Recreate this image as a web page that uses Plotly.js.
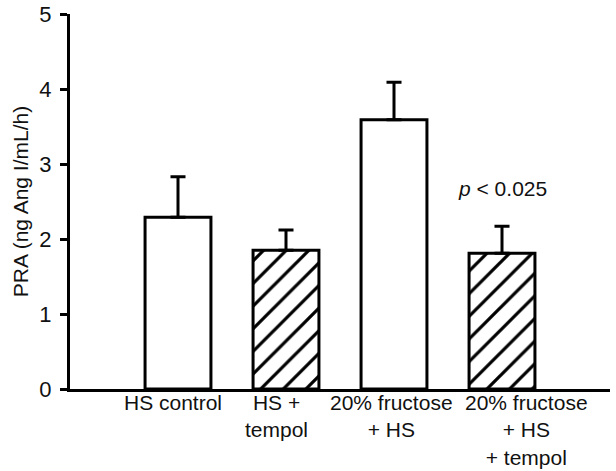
<!DOCTYPE html>
<html>
<head>
<meta charset="utf-8">
<script src="https://cdn.plot.ly/plotly-3.0.1.min.js"></script>
<style>html,body{margin:0;padding:0;background:#fff;}#chart{width:616px;height:471px;}</style>
</head>
<body>
<div id="chart"></div>
<script>
const categories = ["HS control", "HS +<br>tempol", "20% fructose<br>+ HS", "20% fructose<br>+ HS<br>+ tempol"];
const values = [2.29, 1.85, 3.59, 1.81];
const errors = [0.54, 0.27, 0.50, 0.36];
const hatched = [false, true, false, true];
const yTicks = [0, 1, 2, 3, 4, 5];
const annotationText = "<i>p</i> < 0.025";

// label horizontal offsets (px) as placed in the original figure
const labelShift = [-5, -10, -3, 24];

const xIdx = categories.map((c, i) => i);

const trace = {
  type: 'bar',
  x: xIdx,
  y: values,
  width: 0.61,
  marker: {
    color: 'white',
    line: {color: 'black', width: 3},
    pattern: {
      shape: hatched.map(h => h ? '/' : ''),
      fgcolor: 'black',
      bgcolor: 'white',
      size: 16,
      solidity: 0.2
    }
  },
  error_y: {
    type: 'data',
    symmetric: false,
    array: errors,
    arrayminus: errors.map(() => 0),
    color: 'black',
    thickness: 3,
    width: 7.5
  },
  hoverinfo: 'none'
};

const fam = 'Liberation Sans, Arial, sans-serif';
const tc = '#111';

const catLabels = categories.map((c, i) => ({
  x: i, y: 0, xref: 'x', yref: 'paper',
  text: c, showarrow: false,
  xanchor: 'center', yanchor: 'top', align: 'center',
  xshift: labelShift[i], yshift: 0,
  font: {size: 21, family: fam, color: tc}
}));

const layout = {
  width: 616,
  height: 471,
  margin: {l: 70, r: 6, t: 14, b: 82},
  paper_bgcolor: 'white',
  plot_bgcolor: 'white',
  showlegend: false,
  font: {family: fam, color: tc},
  xaxis: {
    range: [-1, 4.0],
    tickmode: 'array',
    tickvals: xIdx,
    showticklabels: false,
    ticks: '',
    showline: true,
    linewidth: 3,
    linecolor: 'black',
    showgrid: false,
    zeroline: false,
    automargin: false,
    fixedrange: true
  },
  yaxis: {
    range: [0, 5],
    tickmode: 'array',
    tickvals: yTicks,
    ticktext: yTicks.map(String),
    ticks: 'outside',
    ticklen: 7,
    tickwidth: 3,
    tickcolor: 'black',
    ticklabelstandoff: 4,
    showline: true,
    linewidth: 3,
    linecolor: 'black',
    showgrid: false,
    zeroline: false,
    tickfont: {size: 22, family: fam, color: tc},
    title: {text: 'PRA (ng Ang I/mL/h)', font: {size: 21, family: fam, color: tc}, standoff: 5},
    automargin: false,
    fixedrange: true
  },
  annotations: catLabels.concat([{
    x: 3, y: 2.68, xref: 'x', yref: 'y',
    text: annotationText,
    showarrow: false,
    font: {size: 21, family: fam, color: tc}
  }])
};

Plotly.newPlot('chart', [trace], layout, {displayModeBar: false, staticPlot: true});
</script>
</body>
</html>
